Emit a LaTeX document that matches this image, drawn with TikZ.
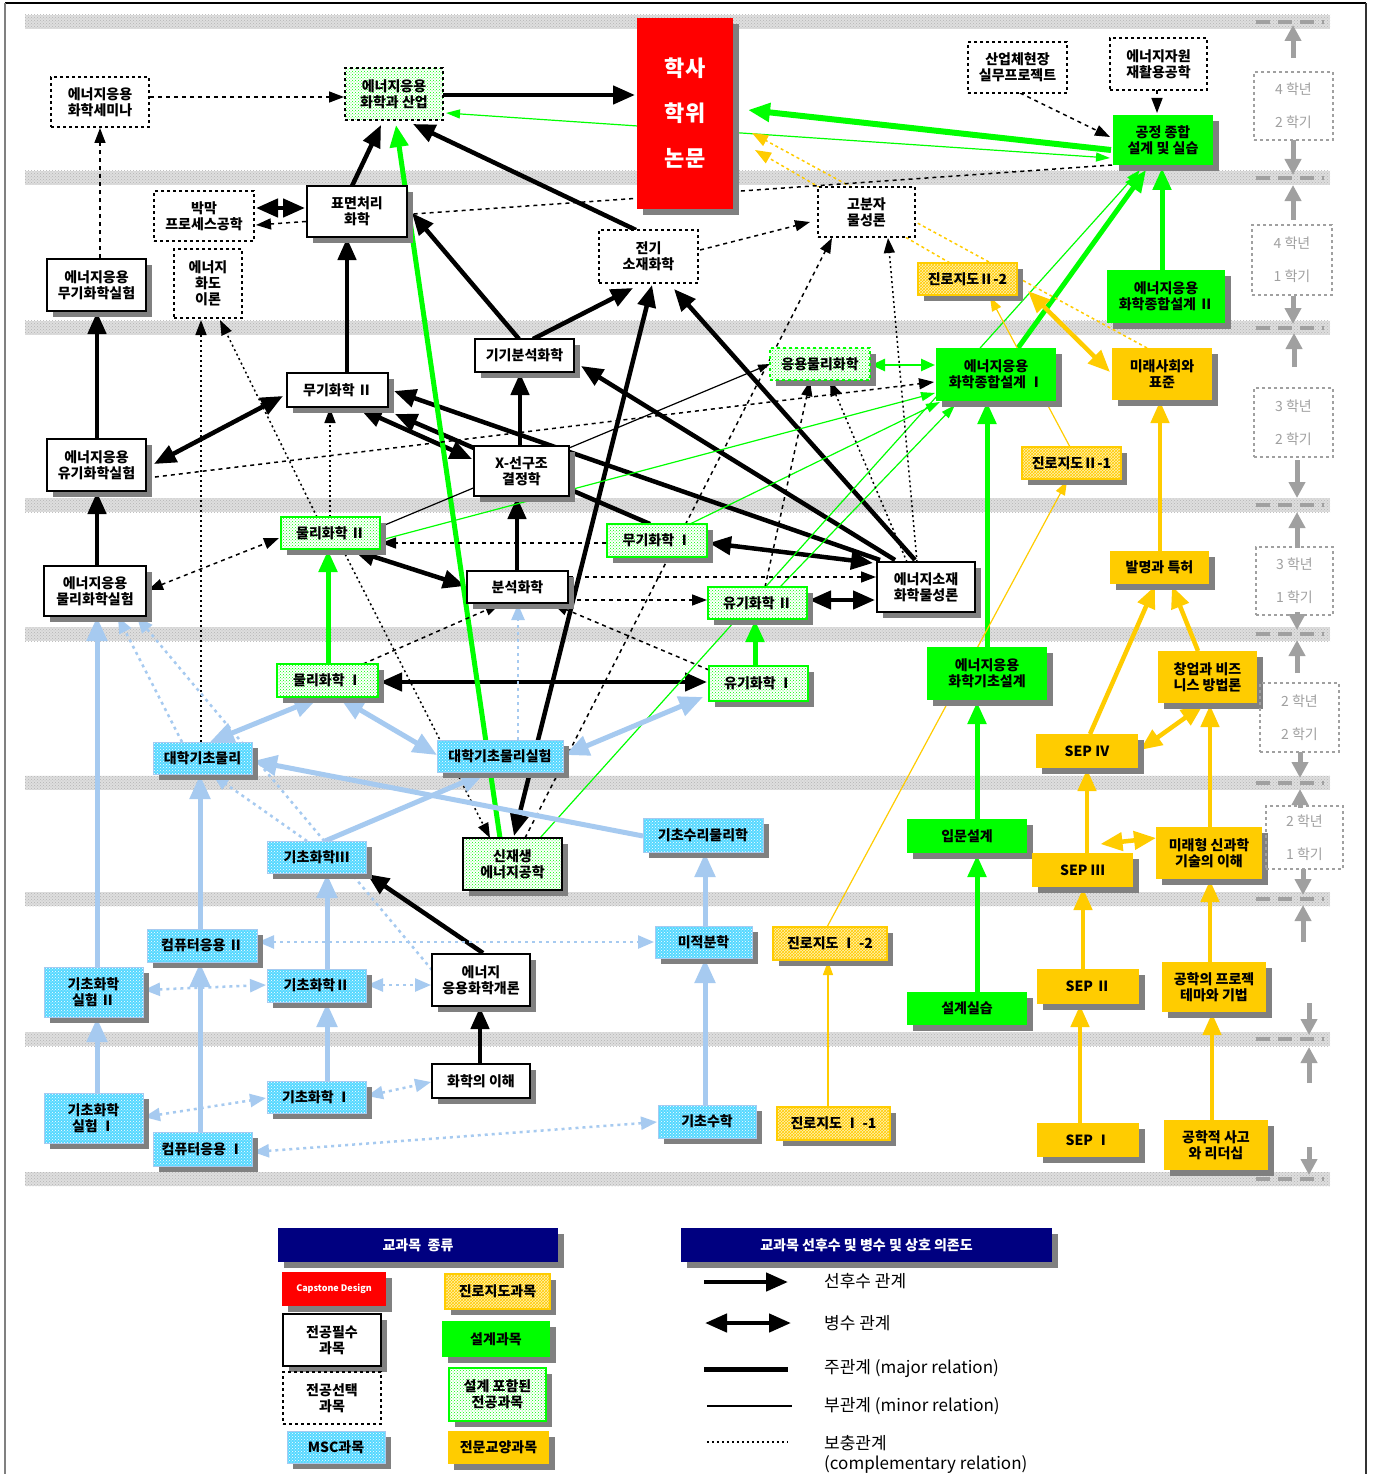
\documentclass[tikz,border=0pt]{standalone}
\usepackage{fontspec}
\setmainfont{Noto Sans CJK KR}
\usetikzlibrary{arrows.meta,patterns,shadows,calc}
\definecolor{grn}{HTML}{00FF00}
\definecolor{ylw}{HTML}{FFCC00}
\definecolor{cyn}{HTML}{55D8FF}
\definecolor{lbl}{HTML}{A6CAF0}
\definecolor{nvy}{HTML}{000080}
\definecolor{shd}{HTML}{808080}
\definecolor{yrg}{HTML}{A0A0A0}
\definecolor{bandc}{HTML}{DEDEDE}
\definecolor{bandd}{HTML}{B4B4B4}
\pgfdeclarelayer{bands}\pgfdeclarelayer{edges}
\pgfsetlayers{bands,edges,main}
\newcommand{\mkbox}[7]{\node[#6,minimum width={#4-#2},minimum height={#5-#3}] (#1) at ({(#2+#4)/2},{(#3+#5)/2}) {#7};}
\tikzset{
 base/.style={inner sep=1pt,align=center,font=\fontsize{14}{16}\selectfont\bfseries,text=black},
 shad/.style={drop shadow={shadow xshift=6pt,shadow yshift=-6pt,fill=shd,opacity=1}},
 reqbox/.style={base,shad,draw=black,line width=1.6pt,fill=white},
 selbox/.style={base,draw=black,line width=1.3pt,dash pattern=on 3pt off 3pt,fill=white},
 inddot/.style={base,draw=black,line width=1.3pt,dash pattern=on 3pt off 3pt,preaction={fill=white},pattern=crosshatch dots,pattern color=grn},
 apcbox/.style={base,shad,draw=grn,line width=1.5pt,dash pattern=on 3pt off 3pt,preaction={fill=white},pattern=crosshatch dots,pattern color=grn},
 renewbox/.style={base,shad,draw=black,line width=1.6pt,preaction={fill=white},pattern=crosshatch dots,pattern color=grn},
 desbox/.style={base,shad,fill=grn},
 dotbox/.style={base,shad,draw=grn,line width=1.5pt,preaction={fill=white},pattern=crosshatch dots,pattern color=grn},
 msbox/.style={base,shad,draw=lbl,line width=1pt,preaction={fill=cyn},pattern=crosshatch dots,pattern color=white},
 carbox/.style={base,shad,draw=ylw,line width=1.5pt,preaction={fill=ylw!30},pattern=crosshatch,pattern color=ylw},
 libbox/.style={base,shad,fill=ylw},
 redbox/.style={shad,fill=red,text=white,align=center,inner sep=0pt,font=\fontsize{22}{45}\selectfont\bfseries},
 redsmall/.style={shad,fill=red,text=white,align=center,inner sep=0pt,font=\fontsize{9}{10}\selectfont\bfseries},
 hdr/.style={shad,fill=nvy,text=white,align=center,inner sep=0pt,font=\fontsize{14}{16}\selectfont\bfseries},
 yrbox/.style={draw=yrg,line width=1.5pt,dash pattern=on 3pt off 3pt,text=yrg,align=center,inner sep=0pt,font=\fontsize{14}{33}\selectfont},
 lgtxt/.style={anchor=west,inner sep=0pt,font=\fontsize{17}{19}\selectfont},
 maj/.style={line width=4.5pt,black,-{Triangle[length=22pt,width=18pt]}},
 majd/.style={line width=4.5pt,black,{Triangle[length=22pt,width=18pt]}-{Triangle[length=22pt,width=18pt]}},
 cmp/.style={line width=1.5pt,black,dash pattern=on 4pt off 4pt,-{Triangle[length=15pt,width=11pt]}},
 cmpd/.style={line width=1.5pt,black,dash pattern=on 4pt off 4pt,{Triangle[length=15pt,width=11pt]}-{Triangle[length=15pt,width=11pt]}},
 mnr/.style={line width=1.2pt,black,-{Triangle[length=12pt,width=8pt]}},
 gthick/.style={line width=5pt,grn,-{Triangle[length=22pt,width=18pt]}},
 gthin/.style={line width=1.2pt,grn,-{Triangle[length=14pt,width=9pt]}},
 gthind/.style={line width=1.2pt,grn,{Triangle[length=14pt,width=9pt]}-{Triangle[length=14pt,width=9pt]}},
 gmedd/.style={line width=2.5pt,grn,{Triangle[length=14pt,width=12pt]}-{Triangle[length=14pt,width=12pt]}},
 bthick/.style={line width=5pt,lbl,-{Triangle[length=24pt,width=20pt]}},
 bthickd/.style={line width=5pt,lbl,{Triangle[length=24pt,width=20pt]}-{Triangle[length=24pt,width=20pt]}},
 bdot/.style={line width=2.5pt,lbl,dash pattern=on 3pt off 4pt,-{Triangle[length=16pt,width=13pt]}},
 bdotd/.style={line width=2.5pt,lbl,dash pattern=on 3pt off 4pt,{Triangle[length=16pt,width=13pt]}-{Triangle[length=16pt,width=13pt]}},
 ythick/.style={line width=4.5pt,ylw,-{Triangle[length=22pt,width=18pt]}},
 ythickd/.style={line width=4.5pt,ylw,{Triangle[length=22pt,width=18pt]}-{Triangle[length=22pt,width=18pt]}},
 ythin/.style={line width=1.2pt,ylw,-{Triangle[length=14pt,width=10pt]}},
 ydot/.style={line width=1.5pt,ylw,dash pattern=on 3pt off 3pt,-{Triangle[length=16pt,width=12pt]}},
 yrarr/.style={line width=5pt,yrg,-{Triangle[length=16pt,width=16pt]}},
}
\begin{document}
\begin{tikzpicture}[x=1pt,y=-1pt]
\useasboundingbox (0,0) rectangle (1375,1474);
\begin{pgfonlayer}{bands}
\fill[white] (0,0) rectangle (1375,1474);
\foreach \y in {22,178,327.5,505,634,782.5,899,1039,1179}{\path[preaction={fill=bandc},pattern=crosshatch dots,pattern color=bandd] (25,\y-7) rectangle (1330,\y+7);}
\foreach \y in {22,178,327.5,505,634,782.5,899,1039,1179}{\draw[yrg,line width=4pt,dash pattern=on 14pt off 8pt] (1256,\y) -- (1324,\y);}
\draw[black,line width=2pt] (5,3) -- (1366,3);
\draw[gray,line width=1.5pt] (5,3) -- (5,1474);
\draw[black!80,line width=1.5pt] (1366,3) -- (1366,1474);
\end{pgfonlayer}
% ---------- nodes ----------
\mkbox{semi}{51}{77}{149}{127}{selbox}{에너지응용\\화학세미나}
\mkbox{ind}{345}{68}{443}{120}{inddot}{에너지응용\\화학과 산업}
\mkbox{thesis}{637}{18}{733}{209}{redbox}{학사\\학위\\논문}
\mkbox{proj}{968}{42}{1067}{93}{selbox}{산업체현장\\실무프로젝트}
\mkbox{recy}{1110}{38}{1207}{90}{selbox}{에너지자원\\재활용공학}
\mkbox{cap}{1113}{115}{1213}{165}{desbox}{공정 종합\\설계 및 실습}
\mkbox{surf}{307}{186}{407}{237}{reqbox}{표면처리\\화학}
\mkbox{thin}{154}{191}{254}{241}{selbox}{박막\\프로세스공학}
\mkbox{etheo}{174}{249}{242}{318}{selbox}{에너지\\화도\\이론}
\mkbox{inolab}{47}{259}{146}{311}{reqbox}{에너지응용\\무기화학실험}
\mkbox{elec}{599}{230}{698}{283}{selbox}{전기\\소재화학}
\mkbox{poly}{818}{187}{915}{237}{selbox}{고분자\\물성론}
\mkbox{c22}{918}{263}{1017}{295}{carbox}{진로지도Ⅱ-2}
\mkbox{des2}{1107}{270}{1225}{323}{desbox}{에너지응용\\화학종합설계 Ⅱ}
\mkbox{des1}{936}{348}{1056}{401}{desbox}{에너지응용\\화학종합설계 Ⅰ}
\mkbox{fut}{1112}{348}{1212}{400}{libbox}{미래사회와\\표준}
\mkbox{c21}{1022}{447}{1121}{479}{carbox}{진로지도Ⅱ-1}
\mkbox{pat}{1110}{551}{1209}{584}{libbox}{발명과 특허}
\mkbox{inst}{475}{339}{574}{372}{reqbox}{기기분석화학}
\mkbox{apc}{770}{348}{870}{380}{apcbox}{응용물리화학}
\mkbox{inorg2}{287}{373}{388}{407}{reqbox}{무기화학 Ⅱ}
\mkbox{xray}{474}{446}{569}{496}{reqbox}{X-선구조\\결정학}
\mkbox{orglab}{47}{439}{146}{491}{reqbox}{에너지응용\\유기화학실험}
\mkbox{pc2}{281}{517}{380}{549}{dotbox}{물리화학 Ⅱ}
\mkbox{inorg1}{607}{524}{707}{557}{dotbox}{무기화학 Ⅰ}
\mkbox{anal}{467}{571}{568}{603}{reqbox}{분석화학}
\mkbox{org2}{708}{587}{807}{619}{dotbox}{유기화학 Ⅱ}
\mkbox{emat}{877}{562}{975}{612}{reqbox}{에너지소재\\화학물성론}
\mkbox{pclab}{44}{566}{146}{616}{reqbox}{에너지응용\\물리화학실험}
\mkbox{bdes}{927}{647}{1047}{700}{desbox}{에너지응용\\화학기초설계}
\mkbox{pc1}{277}{664}{378}{697}{dotbox}{물리화학 Ⅰ}
\mkbox{org1}{709}{666}{808}{701}{dotbox}{유기화학 Ⅰ}
\mkbox{biz}{1158}{651}{1257}{703}{libbox}{창업과 비즈\\니스 방법론}
\mkbox{phys}{153}{742}{252}{774}{msbox}{대학기초물리}
\mkbox{physlab}{437}{740}{563}{772}{msbox}{대학기초물리실험}
\mkbox{sep4}{1036}{734}{1138}{768}{libbox}{SEP Ⅳ}
\mkbox{chem3}{267}{841}{366}{873}{msbox}{기초화학Ⅲ}
\mkbox{renew}{463}{838}{562}{890}{renewbox}{신재생\\에너지공학}
\mkbox{mphys}{643}{818}{763}{852}{msbox}{기초수리물리학}
\mkbox{intro}{907}{819}{1027}{853}{desbox}{입문설계}
\mkbox{sep3}{1032}{853}{1133}{887}{libbox}{SEP Ⅲ}
\mkbox{futs}{1156}{827}{1262}{879}{libbox}{미래형 신과학\\기술의 이해}
\mkbox{comp2}{147}{929}{257}{962}{msbox}{컴퓨터응용 Ⅱ}
\mkbox{clab2}{44}{967}{143}{1017}{msbox}{기초화학\\실험 Ⅱ}
\mkbox{chem2}{267}{969}{366}{1002}{msbox}{기초화학Ⅱ}
\mkbox{introchem}{432}{954}{530}{1006}{reqbox}{에너지\\응용화학개론}
\mkbox{calc}{655}{926}{752}{958}{msbox}{미적분학}
\mkbox{c12}{773}{927}{887}{960}{carbox}{진로지도 Ⅰ -2}
\mkbox{dpr}{907}{992}{1027}{1025}{desbox}{설계실습}
\mkbox{sep2}{1037}{969}{1139}{1004}{libbox}{SEP Ⅱ}
\mkbox{engpro}{1162}{962}{1266}{1012}{libbox}{공학의 프로젝\\테마와 기법}
\mkbox{clab1}{44}{1093}{143}{1143}{msbox}{기초화학\\실험 Ⅰ}
\mkbox{chem1}{267}{1081}{366}{1113}{msbox}{기초화학 Ⅰ}
\mkbox{uchem}{432}{1064}{530}{1098}{reqbox}{화학의 이해}
\mkbox{comp1}{153}{1132}{252}{1166}{msbox}{컴퓨터응용 Ⅰ}
\mkbox{math}{658}{1105}{756}{1138}{msbox}{기초수학}
\mkbox{c11}{777}{1107}{890}{1140}{carbox}{진로지도 Ⅰ -1}
\mkbox{sep1}{1037}{1123}{1139}{1157}{libbox}{SEP Ⅰ}
\mkbox{ength}{1164}{1120}{1268}{1170}{libbox}{공학적 사고\\와 리더십}
% year boxes
\mkbox{yb1}{1254}{72}{1333}{140}{yrbox}{4 학년\\2 학기}
\mkbox{yb2}{1252}{225}{1332}{295}{yrbox}{4 학년\\1 학기}
\mkbox{yb3}{1254}{388}{1333}{457}{yrbox}{3 학년\\2 학기}
\mkbox{yb4}{1256}{547}{1333}{615}{yrbox}{3 학년\\1 학기}
\mkbox{yb5}{1260}{683}{1339}{752}{yrbox}{2 학년\\2 학기}
\mkbox{yb6}{1266}{806}{1343}{869}{yrbox}{2 학년\\1 학기}
% legend
\mkbox{lh1}{278}{1228}{558}{1262}{hdr}{교과목 \ 종류}
\mkbox{lh2}{681}{1228}{1052}{1262}{hdr}{교과목 선후수 및 병수 및 상호 의존도}
\mkbox{lcap}{282}{1272}{386}{1306}{redsmall}{Capstone Design}
\mkbox{lreq}{283}{1314}{381}{1366}{reqbox}{전공필수\\과목}
\mkbox{lsel}{283}{1372}{381}{1424}{selbox}{전공선택\\과목}
\mkbox{lmsc}{287}{1431}{385}{1463}{msbox}{MSC과목}
\mkbox{lcar}{445}{1274}{550}{1309}{carbox}{진로지도과목}
\mkbox{ldes}{442}{1321}{550}{1357}{desbox}{설계과목}
\mkbox{ldot}{449}{1368}{546}{1421}{dotbox}{설계 포함된\\전공과목}
\mkbox{llib}{448}{1431}{549}{1464}{libbox}{전문교양과목}
\node[lgtxt] (lt1) at (824,1281) {선후수 관계};
\node[lgtxt] (lt2) at (824,1323) {병수 관계};
\node[lgtxt] (lt3) at (824,1369) {주관계 (major relation)};
\node[lgtxt] (lt4) at (824,1406) {부관계 (minor relation)};
\node[lgtxt] (lt5) at (824,1443) {보충관계};
\node[lgtxt] (lt6) at (824,1465) {(complementary relation)};
\coordinate (la1) at (704,1282); \coordinate (lb1) at (788,1282);
\coordinate (la2) at (705,1323); \coordinate (lb2) at (791,1323);
\coordinate (la3) at (704,1369); \coordinate (lb3) at (788,1369);
\coordinate (la4) at (707,1406); \coordinate (lb4) at (792,1406);
\coordinate (la5) at (707,1442); \coordinate (lb5) at (788,1442);
\draw[maj] (la1) -- (lb1);
\draw[majd] (la2) -- (lb2);
\draw[line width=5pt] (la3) -- (lb3);
\draw[line width=1.2pt] (la4) -- (lb4);
\draw[line width=1.2pt,dash pattern=on 2pt off 3pt] (la5) -- (lb5);
% ---------- edges ----------
\begin{pgfonlayer}{edges}
% year arrows
\foreach \x/\a/\b in {1293/58/25,1293/140/175,1293/220/185,1293/296/324,1294/367/333,1297/460/498,1297/548/512,1297/612/630,1297/673/640,1300/752/778,1300/808/789,1303/869/895,1303/942/905,1309/1003/1035,1309/1083/1047,1309/1147/1175}{\draw[yrarr] (\x,\a) -- (\x,\b);}
% black major
\draw[maj] ($(ind)+(49,1)$) -- ($(thesis)+(-50,-18.5)$);
\draw[maj] ($(surf)+(-5,-25.5)$) -- ($(ind)+(-13,31)$);
\draw[maj] ($(elec)+(-12.5,-26.5)$) -- ($(ind)+(19,30)$);
\draw[maj] ($(inst)+(8.5,-16.5)$) -- ($(elec)+(-15.5,31.5)$);
\draw[maj] ($(inst)+(-5.5,-16.5)$) -- ($(surf)+(55,1.5)$);
\draw[maj] ($(inorg2)+(9.5,-17)$) -- ($(surf)+(-10,26.5)$);
\draw[maj] ($(orglab)+(0.5,-26)$) -- ($(inolab)+(0.5,27)$);
\draw[maj] ($(pclab)+(2,-25)$) -- ($(orglab)+(0.5,27)$);
\draw[majd] ($(inorg2)+(-54.5,6)$) -- ($(orglab)+(57.5,-1)$);
\draw[maj] ($(emat)+(-31,-27)$) -- ($(inst)+(56.5,10.5)$);
\draw[maj] ($(emat)+(-11,-27)$) -- ($(elec)+(25.5,32.5)$);
\draw[maj] ($(emat)+(-46,-27)$) -- ($(inorg2)+(56.5,1)$);
\draw[majd] ($(inorg2)+(22.5,19)$) -- ($(xray)+(-49.5,-12)$);
\draw[maj] ($(inorg1)+(-7,-16.5)$) -- ($(inorg2)+(57.5,24)$);
\draw[majd] ($(pc2)+(22.5,17)$) -- ($(anal)+(-52.5,-1)$);
\draw[maj] ($(anal)+(-0.5,-16)$) -- ($(xray)+(-4.5,26)$);
\draw[maj] ($(xray)+(-1.5,-25)$) -- ($(inst)+(-4.5,17.5)$);
\draw[majd] ($(pc1)+(52.5,1.5)$) -- ($(org1)+(-51.5,-1.5)$);
\draw[majd] ($(elec)+(3.5,28.5)$) -- ($(renew)+(1.5,-28)$);
\draw[maj] ($(introchem)+(2,-27)$) -- ($(chem3)+(50.5,17)$);
\draw[maj] ($(uchem)+(-1,-17)$) -- ($(introchem)+(-1,27)$);
\draw[majd] ($(inorg1)+(52,2.5)$) -- ($(emat)+(-53,-24)$);
\draw[majd] ($(org2)+(51.5,-3)$) -- ($(emat)+(-51,13)$);
\draw[majd] ($(thin)+(52,-8)$) -- ($(surf)+(-52,-3.5)$);
% green
\draw[gthick] ($(renew)+(-12.5,-26)$) -- ($(ind)+(2,31)$);
\draw[gthick,line width=6pt] ($(cap)+(-52,10)$) -- ($(thesis)+(63,-3.5)$);
\draw[gthind] ($(cap)+(-53,18)$) -- ($(ind)+(52,19)$);
\draw[gthick] ($(des2)+(-4,-26.5)$) -- ($(cap)+(-1,28)$);
\draw[gthick] ($(des1)+(22,-26.5)$) -- ($(cap)+(-17,30)$);
\draw[gthick] ($(bdes)+(0,-26.5)$) -- ($(des1)+(-9,27.5)$);
\draw[gthick] ($(intro)+(10,-17)$) -- ($(bdes)+(-10,28.5)$);
\draw[gthick] ($(dpr)+(10,-16.5)$) -- ($(intro)+(10,19)$);
\draw[gthick] ($(org1)+(-3.5,-17.5)$) -- ($(org2)+(-2.5,17)$);
\draw[gthick] ($(pc1)+(0.5,-16.5)$) -- ($(pc2)+(-2.5,17)$);
\draw[gthin] ($(pc2)+(50.5,7)$) -- ($(des1)+(-61,18.5)$);
\draw[gmedd] ($(apc)+(51,1)$) -- ($(des1)+(-61,-9.5)$);
\draw[gthin] ($(renew)+(27.5,-26)$) -- ($(cap)+(-23,30)$);
\draw[gthin] ($(inorg1)+(33,-16.5)$) -- ($(des1)+(-56,27.5)$);
\draw[gthin] ($(org2)+(22.5,-16)$) -- ($(des1)+(-41,30.5)$);
% yellow
\draw[ythin] ($(c11)+(-5.5,-16.5)$) -- ($(c12)+(-2,17.5)$);
\draw[ythin] ($(c12)+(-3,-16.5)$) -- ($(c21)+(-4.5,18)$);
\draw[ythin] ($(c21)+(-1.5,-16)$) -- ($(c22)+(22.5,18)$);
\draw[ydot] ($(fut)+(-15,-26)$) -- ($(thesis)+(67,19.5)$);
\draw[ydot] ($(c22)+(-17.5,-16)$) -- ($(thesis)+(70,36.5)$);
\draw[ythickd] ($(c22)+(60.5,12)$) -- ($(fut)+(-52,-2)$);
\draw[ythick] ($(pat)+(0.5,-16.5)$) -- ($(fut)+(-2,27)$);
\draw[ythick] ($(sep4)+(3,-17)$) -- ($(pat)+(-4.5,18.5)$);
\draw[ythick] ($(biz)+(-9.5,-26)$) -- ($(pat)+(12.5,18.5)$);
\draw[ythickd] ($(sep4)+(53,-1)$) -- ($(biz)+(-4.5,28)$);
\draw[ythick] ($(futs)+(1,-26)$) -- ($(biz)+(2.5,28)$);
\draw[ythick] ($(sep3)+(4.5,-17)$) -- ($(sep4)+(0,18)$);
\draw[ythickd] ($(sep3)+(18,-26)$) -- ($(futs)+(-53,-15)$);
\draw[ythick] ($(sep2)+(-5,-17.5)$) -- ($(sep3)+(0.5,18)$);
\draw[ythick] ($(engpro)+(-4,-25)$) -- ($(futs)+(1,27)$);
\draw[ythick] ($(sep1)+(-8,-17)$) -- ($(sep2)+(-8,18.5)$);
\draw[ythick] ($(ength)+(-4,-25)$) -- ($(engpro)+(-2,26)$);
% black complementary
\draw[cmp] ($(semi)+(50,-5)$) -- ($(ind)+(-50,3)$);
\draw[cmp] ($(inolab)+(3.5,-27)$) -- ($(semi)+(0,26)$);
\draw[cmp] ($(proj)+(2.5,25.5)$) -- ($(cap)+(-53,-3)$);
\draw[cmp] ($(recy)+(-1.5,26)$) -- ($(cap)+(-6,-27)$);
\draw[cmp] ($(elec)+(51.5,-6.5)$) -- ($(poly)+(-56.5,10)$);
\draw[cmp] ($(cap)+(-51,25)$) -- ($(thin)+(52,9)$);
\draw[cmp,dash pattern=on 2pt off 3pt] ($(phys)+(-1.5,-16)$) -- ($(etheo)+(-7,36.5)$);
\draw[cmp,dash pattern=on 2pt off 3pt] ($(pc2)+(-13.5,-16)$) -- ($(etheo)+(12,36.5)$);
\draw[cmp,dash pattern=on 2pt off 3pt] ($(pc2)+(-0.5,-16)$) -- ($(inorg2)+(-7.5,18)$);
\draw[cmpd] ($(pclab)+(53,-1)$) -- ($(pc2)+(-51.5,5)$);
\draw[cmp] ($(orglab)+(50.5,13)$) -- ($(des1)+(-62,7.5)$);
\draw[cmp] ($(anal)+(51.5,-10)$) -- ($(emat)+(-50,-10)$);
\draw[cmp] ($(anal)+(51.5,13)$) -- ($(org2)+(-50.5,-3)$);
\draw[cmp] ($(inorg1)+(-51,2.5)$) -- ($(pc2)+(50.5,10)$);
\draw[cmp,dash pattern=on 2pt off 3pt] ($(emat)+(-9,-25)$) -- ($(poly)+(21.5,26)$);
\draw[cmp] ($(renew)+(12.5,-26)$) -- ($(poly)+(-34.5,26)$);
\draw[cmp,dash pattern=on 2pt off 3pt] ($(emat)+(-19,-25)$) -- ($(apc)+(10,17)$);
\draw[cmp] ($(org2)+(7.5,-16)$) -- ($(apc)+(-10,17)$);
\draw[cmp] ($(pc1)+(35.5,-16.5)$) -- ($(anal)+(-17.5,17)$);
\draw[cmp] ($(org1)+(-49.5,-13.5)$) -- ($(anal)+(35.5,17)$);
\draw[cmp,dash pattern=on 2pt off 3pt] ($(pc2)+(12.5,17)$) -- ($(renew)+(-22.5,-26)$);
\draw[mnr] ($(pc2)+(49.5,-6)$) -- ($(apc)+(-50,0)$);
% light blue
\draw[bthick] ($(clab2)+(3.5,-25)$) -- ($(pclab)+(2,26)$);
\draw[bthickd] ($(pc1)+(-9.5,17.5)$) -- ($(phys)+(7.5,-16)$);
\draw[bthickd] ($(pc1)+(12.5,17.5)$) -- ($(physlab)+(-63,-1)$);
\draw[bthickd] ($(org1)+(-55.5,13.5)$) -- ($(physlab)+(65,-1)$);
\draw[bthick] ($(mphys)+(-60,1)$) -- ($(phys)+(50.5,3)$);
\draw[bthick] ($(chem3)+(8.5,-16)$) -- ($(physlab)+(-15,17)$);
\draw[bthick] ($(comp2)+(-2,-16.5)$) -- ($(phys)+(-2.5,17)$);
\draw[bthick] ($(chem2)+(10.5,-16.5)$) -- ($(chem3)+(10.5,17)$);
\draw[bthick] ($(calc)+(1.5,-16)$) -- ($(mphys)+(2,18)$);
\draw[bthick] ($(math)+(-2,-16.5)$) -- ($(calc)+(1.5,17)$);
\draw[bthick] ($(chem1)+(10.5,-16)$) -- ($(chem2)+(10.5,17.5)$);
\draw[bthick] ($(clab1)+(3.5,-25)$) -- ($(clab2)+(3.5,26)$);
\draw[bthick] ($(comp1)+(-2.5,-17)$) -- ($(comp2)+(-2,17.5)$);
\draw[bdot] ($(physlab)+(18,-16)$) -- ($(anal)+(0.5,17)$);
\draw[bdot] ($(phys)+(-20.5,-16)$) -- ($(pclab)+(23,26)$);
\draw[bdot] ($(introchem)+(-49,-10)$) -- ($(pclab)+(42,26)$);
\draw[bdot] ($(chem3)+(-9.5,-16)$) -- ($(phys)+(10.5,17)$);
\draw[bdotd] ($(comp2)+(56,-3.5)$) -- ($(calc)+(-49.5,0)$);
\draw[bdotd] ($(clab2)+(50.5,-2)$) -- ($(chem2)+(-50.5,-0.5)$);
\draw[bdotd] ($(chem2)+(50.5,-0.5)$) -- ($(introchem)+(-50,5)$);
\draw[bdotd] ($(clab1)+(50.5,-1)$) -- ($(chem1)+(-50.5,1)$);
\draw[bdotd] ($(chem1)+(50.5,-1)$) -- ($(uchem)+(-50,1)$);
\draw[bdotd] ($(comp1)+(50.5,3)$) -- ($(math)+(-50,0.5)$);
\end{pgfonlayer}
\end{tikzpicture}
\end{document}
